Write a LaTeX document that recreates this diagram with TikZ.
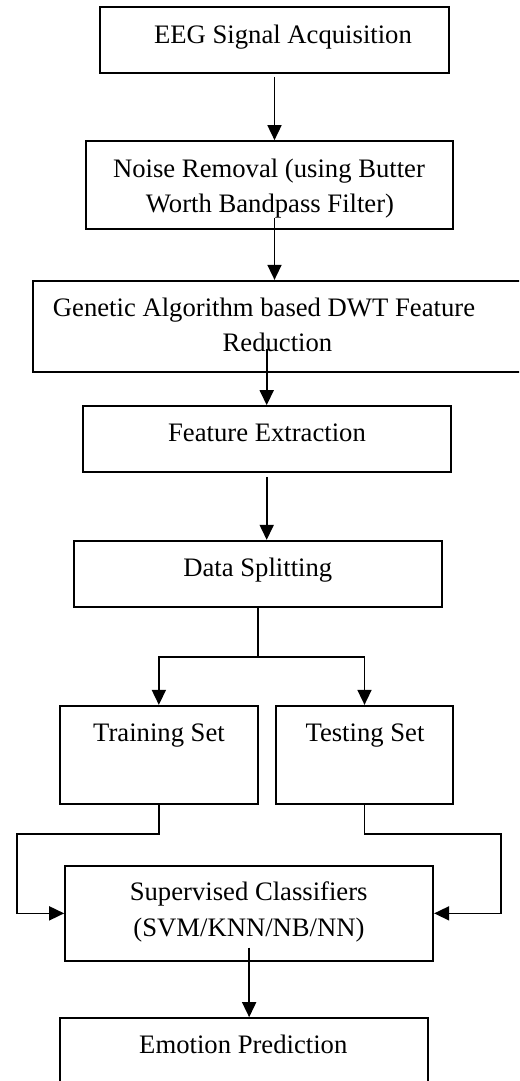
\documentclass[tikz,border=0pt]{standalone}
\usepackage{fontspec}
\setmainfont{Liberation Serif}
\usetikzlibrary{arrows.meta,calc}
\newcommand\pxu{0.45pt}
\begin{document}
\begin{tikzpicture}[x=0.45pt,y=-0.45pt,
  box/.style={draw,rectangle,inner sep=0pt,line width=0.75pt},
  lbl/.style={anchor=base,inner sep=0pt,font=\fontsize{12}{15.75}\selectfont},
  link/.style={line width=0.75pt},
  arr/.style={line width=0.75pt,-{Triangle[width=6.3pt,length=6.75pt]}}]
\useasboundingbox (0,0) rectangle (519,1081);
\clip (0,0) rectangle (519,1081);

% process boxes
\node[box,minimum width=349*\pxu,minimum height=66*\pxu]    (acq)   at (274.5,39.7) {};
\node[box,minimum width=367.6*\pxu,minimum height=87.7*\pxu] (noise) at (269.5,184.85) {};
\node[box,minimum width=506.7*\pxu,minimum height=91*\pxu]   (ga)    at (286.65,326.2) {};
\node[box,minimum width=368*\pxu,minimum height=66*\pxu]     (feat)  at (266.7,439) {};
\node[box,minimum width=368.3*\pxu,minimum height=66*\pxu]   (split) at (257.85,573.7) {};
\node[box,minimum width=197.7*\pxu,minimum height=98.3*\pxu] (train) at (158.85,754.85) {};
\node[box,minimum width=177.6*\pxu,minimum height=98.3*\pxu] (test)  at (364.5,754.85) {};
\node[box,minimum width=368.3*\pxu,minimum height=95.3*\pxu] (clf)   at (249.15,913.35) {};
\node[box,minimum width=367.7*\pxu,minimum height=82*\pxu]   (emo)   at (243.85,1059) {};

% box texts
\node[lbl] (acqT)    at (283,43.3)   {EEG Signal Acquisition};
\node[lbl] (noiseTa) at (269,177)    {Noise Removal (using Butter};
\node[lbl] (noiseTb) at (270,212)    {Worth Bandpass Filter)};
\node[lbl] (gaTa)    at (264,316.7)  {Genetic Algorithm based DWT Feature};
\node[lbl] (gaTb)    at (277.5,351.7) {Reduction};
\node[lbl] (featT)   at (267,441.7)  {Feature Extraction};
\node[lbl] (splitT)  at (257.8,576.7) {Data Splitting};
\node[lbl] (trainT)  at (159,741.7)  {Training Set};
\node[lbl] (testT)   at (365,741.7)  {Testing Set};
\node[lbl] (clfTa)   at (248.7,900)  {Supervised Classifiers};
\node[lbl] (clfTb)   at (249,936.7)  {(SVM/KNN/NB/NN)};
\node[lbl] (emoT)    at (243.3,1053.3) {Emotion Prediction};

% bend points of the connectors
\coordinate (fork)  at ($(split.south)+(0,49.3)$);
\coordinate (lbend) at (17.3,834.3);
\coordinate (rbend) at (501,834.3);

% connectors
\draw[arr] ($(acq.south)+(0,3.3)$) -- (noise.north -| acq.south);
\draw[arr] ($(noise.south -| acq.south)+(0,-11.7)$) -- (ga.north -| acq.south);
\draw[arr] ($(ga.south -| feat.north)+(0,-23.7)$) -- (feat.north);
\draw[arr] ($(feat.south)+(0,4)$) -- (split.north -| feat.south);
\draw[link] (split.south) -- (fork);
\draw[arr] (fork) -| (train.north);
\draw[arr] (fork) -| (test.north);
\draw[arr] (train.south) |- (lbend) |- (clf.west);
\draw[arr] (test.south) |- (rbend) |- (clf.east);
\draw[arr] ($(clf.south)+(0,-14.3)$) -- (emo.north -| clf.south);
\end{tikzpicture}
\end{document}
